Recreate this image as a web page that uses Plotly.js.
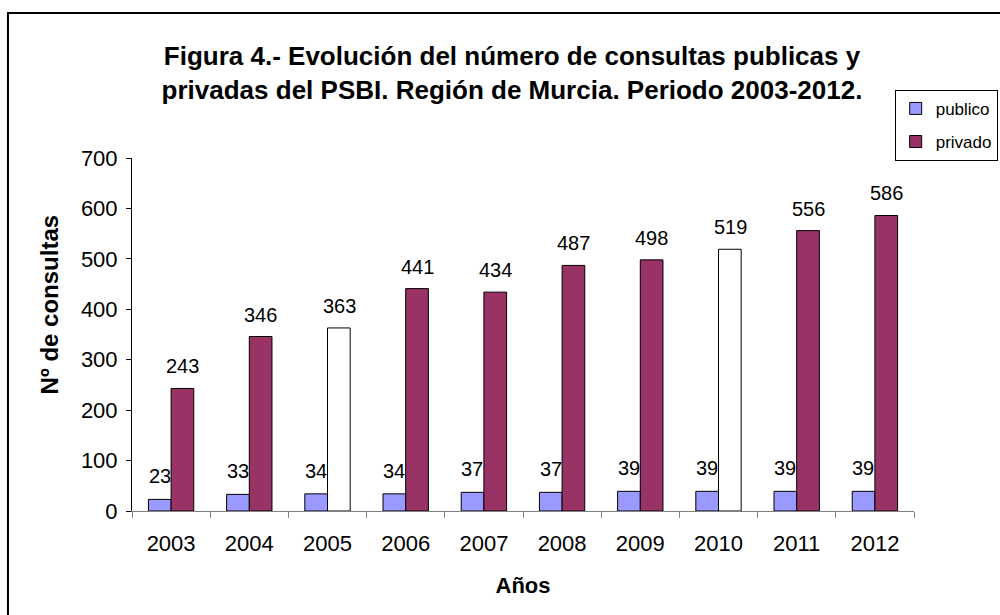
<!DOCTYPE html>
<html>
<head>
<meta charset="utf-8">
<script src="https://cdn.plot.ly/plotly-3.0.1.min.js"></script>
<style>
  body { margin: 0; background: #fff; }
  #chart { width: 1000px; height: 615px; }
</style>
</head>
<body>
<div id="chart"></div>
<script>
// data
var years = ["2003", "2004", "2005", "2006", "2007", "2008", "2009", "2010", "2011", "2012"];
var publico = [23, 33, 34, 34, 37, 37, 39, 39, 39, 39];
var privado = [243, 346, 363, 441, 434, 487, 498, 519, 556, 586];
var blankYears = ["2005", "2010"]; // privado bars drawn without fill

var font = "Liberation Sans, Arial, sans-serif";

var privadoColors = years.map(y => blankYears.indexOf(y) >= 0 ? "#ffffff" : "#993366");

var trace1 = {
    x: years,
    y: publico,
    name: "publico",
    legendgroup: "a",
    type: "bar",
    marker: { color: "#9999ff", line: { color: "#000", width: 1 } },
    hoverinfo: "y"
};
var trace2 = {
    x: years,
    y: privado,
    name: "privado",
    legendgroup: "b",
    type: "bar",
    marker: { color: privadoColors, line: { color: "#000", width: 1 } },
    hoverinfo: "y"
};

// value labels above the bars (x given as category index)
var labels = [];
years.forEach((yr, i) => {
    labels.push({ x: i, y: publico[i], text: String(publico[i]), xref: "x", yref: "y",
        showarrow: false, xshift: -11.5, yshift: 23, font: { family: font, size: 20, color: "#000" } });
    labels.push({ x: i, y: privado[i], text: String(privado[i]), xref: "x", yref: "y",
        showarrow: false, xshift: 11.5, yshift: 22, font: { family: font, size: 20, color: "#000" } });
});

// y axis title placed a little above the plot centre, as in the original
labels.push({
    text: "<b>Nº de consultas</b>", xref: "paper", yref: "paper",
    x: -0.105, y: 0.585, xanchor: "center", yanchor: "middle",
    textangle: -90, showarrow: false,
    font: { family: font, size: 24, color: "#000" }
});

var layout = {
    width: 1000,
    height: 615,
    margin: { l: 132, r: 86, t: 158, b: 104, autoexpand: false },
    paper_bgcolor: "#fff",
    plot_bgcolor: "#fff",
    font: { family: font, size: 20, color: "#000" },
    title: {
        text: "<b>Figura 4.- Evolución del número de consultas publicas y<br>privadas del PSBI. Región de Murcia. Periodo 2003-2012.</b>",
        font: { family: font, size: 26, color: "#000" },
        x: 0.512,
        xanchor: "center",
        y: 0.894,
        yanchor: "middle",
        yref: "container"
    },
    barmode: "group",
    bargap: 0.42,
    bargroupgap: 0,
    showlegend: true,
    legend: {
        x: 1.107, xanchor: "right",
        y: 1.193, yanchor: "top",
        bordercolor: "#000", borderwidth: 1,
        bgcolor: "#fff",
        font: { family: font, size: 17 },
        traceorder: "grouped",
        tracegroupgap: 8
    },
    xaxis: {
        type: "category",
        range: [-0.5, 9.5],
        showline: true,
        linecolor: "#808080",
        linewidth: 1,
        ticks: "outside",
        tickson: "boundaries",
        ticklen: 6,
        tickcolor: "#808080",
        ticklabelstandoff: 13,
        tickfont: { family: font, size: 22 },
        showgrid: false,
        title: { text: "<b>Años</b>", font: { family: font, size: 22 }, standoff: 22 }
    },
    yaxis: {
        range: [0, 700],
        dtick: 100,
        showline: true,
        linecolor: "#000",
        linewidth: 1,
        ticks: "outside",
        ticklen: 5,
        tickcolor: "#000",
        ticklabelstandoff: 4,
        tickfont: { family: font, size: 22 },
        showgrid: false,
        zeroline: false
    },
    annotations: labels,
    shapes: [{
        type: "rect", xref: "paper", yref: "paper",
        x0: -0.1586, x1: 1.3, y0: -0.6, y1: 1.4108,
        line: { color: "#000", width: 2 },
        layer: "below"
    }]
};

Plotly.newPlot("chart", [trace1, trace2], layout, { displayModeBar: false });
</script>
</body>
</html>
